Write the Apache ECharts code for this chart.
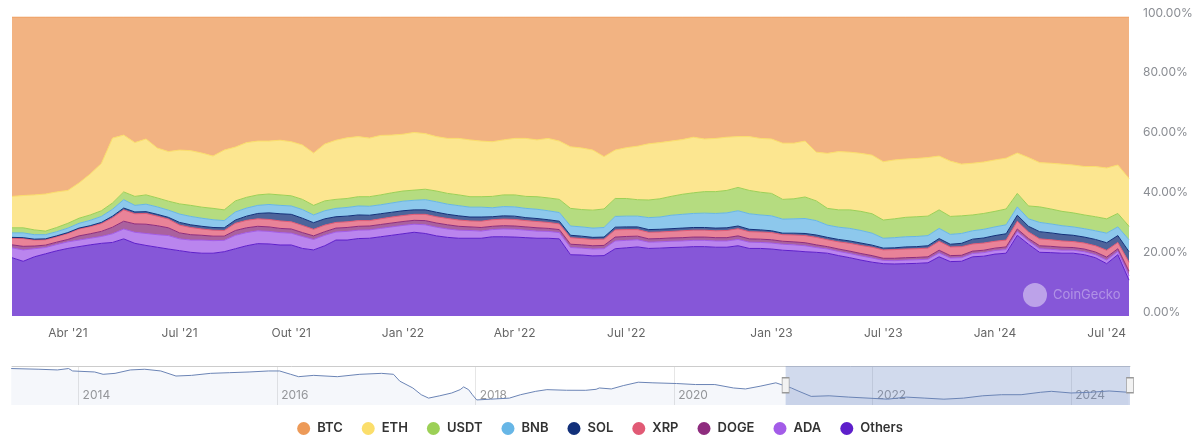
<!DOCTYPE html>
<html><head><meta charset="utf-8">
<script src="https://cdn.jsdelivr.net/npm/echarts@6/dist/echarts.min.js"></script>
<style>html,body{margin:0;padding:0;background:#fff}#c{width:1200px;height:446px}</style>
</head><body><div id="c"></div>
<script>
// ---- main chart categories (ordinal time axis) ----
const dates = ['2021-02-15','2021-02-24','2021-03-05','2021-03-14','2021-03-23','2021-04-01','2021-04-10','2021-04-19','2021-04-28','2021-05-07','2021-05-16','2021-05-25','2021-06-03','2021-06-12','2021-06-21','2021-07-01','2021-07-10','2021-07-19','2021-07-28','2021-08-06','2021-08-15','2021-08-24','2021-09-02','2021-09-11','2021-09-21','2021-10-01','2021-10-10','2021-10-19','2021-10-28','2021-11-06','2021-11-15','2021-11-24','2021-12-04','2021-12-13','2021-12-22','2022-01-01','2022-01-10','2022-01-19','2022-01-28','2022-02-06','2022-02-15','2022-02-24','2022-03-05','2022-03-14','2022-03-23','2022-04-01','2022-04-10','2022-04-19','2022-04-28','2022-05-07','2022-05-16','2022-05-25','2022-06-03','2022-06-12','2022-06-21','2022-07-01','2022-07-15','2022-07-29','2022-08-12','2022-08-26','2022-09-09','2022-09-23','2022-10-07','2022-10-21','2022-11-04','2022-11-18','2022-12-02','2022-12-16','2023-01-01','2023-01-19','2023-02-06','2023-02-24','2023-03-14','2023-04-01','2023-04-19','2023-05-07','2023-05-25','2023-06-12','2023-07-01','2023-07-19','2023-08-06','2023-08-24','2023-09-11','2023-09-29','2023-10-17','2023-11-04','2023-11-22','2023-12-10','2024-01-01','2024-01-19','2024-02-06','2024-02-24','2024-03-13','2024-03-31','2024-04-18','2024-05-06','2024-05-24','2024-06-12','2024-07-01','2024-07-19','2024-08-06'];

const xTickDates = ['2021-04-01','2021-07-01','2021-10-01','2022-01-01','2022-04-01','2022-07-01','2023-01-01','2023-07-01','2024-01-01','2024-07-01'];
const xTickTexts = ["Abr '21","Jul '21","Out '21","Jan '22","Abr '22","Jul '22","Jan '23","Jul '23","Jan '24","Jul '24"];

// ---- market share (%) per coin ----
const btc = [60,59.7,59.5,59.2,58.5,58,55.5,52.5,49,40.5,39.5,42,40.8,43.8,45,
 44.5,44.7,45.5,46.5,44.5,43.5,42,41.5,41.5,41.2,41.7,42.8,45.5,42.5,
 41.2,40.4,40,40.5,39.6,39.5,39.2,38.6,39,40,40.6,40.6,41.1,41.5,
 41.7,41.1,40.6,40.6,41.1,40.6,41.5,43.4,43.8,44.5,46.7,44.5,43.7,43.2,
 42.4,42,41.5,41,40.2,40.8,40.6,40.2,40,40,40.6,40.8,42.2,42.2,41.5,
 45.2,45.6,45,45.2,45.6,46.2,48.4,47.8,47.5,47.3,47,46.5,48.2,49.2,
 48.9,48.5,47.8,47.2,45.5,47,48.7,48.9,49.2,49.5,50,50,50.5,49.5,54];
const eth = [10.5,10.8,11.7,12.4,11.9,11,11.8,13.7,15.8,21.7,19.0,18,18.7,16.7,16.6,
 18,18.3,18.1,17.5,20,18,18.3,18,17.7,18.3,18.1,18.2,17.5,19,
 19.8,20.3,20.1,19.6,19.9,19.3,19,19.3,18.6,18.2,18.4,18.9,19,18.6,
 18.3,18.4,18.9,19.4,19,19.9,19.5,20.6,20.6,20.1,17.5,16.2,17,17.9,
 18.8,18.8,18.5,18.3,18.6,17.6,17.8,17.8,17,18,18,18.2,18.8,18.6,18.7,
 16.3,18.4,19.5,19.3,19.4,19.6,19.5,19.7,19.5,19.5,19.6,18,18.5,17.3,
 17.3,17.2,17.2,17,13.5,16.2,14.8,15.3,15.8,16,16.2,16.8,17,16.2,16];
const usdt = [1.7,1.7,1.6,1.2,1.4,1.6,1.7,1.8,1.9,2.1,2.6,3.0,3.1,3.0,3.0,
 3.4,3.7,3.7,3.8,3.6,3.7,3.6,3.5,3.5,3.5,3.4,3.4,3.2,3.3,
 3.0,3.0,3.1,3.2,3.3,3.4,3.4,3.4,3.5,3.6,3.6,3.6,3.5,3.5,
 3.8,3.9,4.0,4.0,4.2,4.3,4.4,5.9,5.8,6.0,6.2,6.0,5.9,5.5,
 5.9,6.1,6.3,6.7,6.9,7.2,7.3,7.5,7.8,7.8,7.6,7.5,6.6,6.7,7.2,
 6.6,5.6,5.8,6.2,6.4,6.5,6.1,6.3,6.5,6.6,6.5,6.2,6.0,5.9,
 5.3,5.3,5.2,5.3,4.5,4.3,5.2,5.0,4.8,4.7,4.6,4.7,4.8,4.5,4.5];
const bnb = [1.5,1.6,1.5,1.4,1.4,1.5,1.6,1.8,2.0,2.3,2.8,2.2,2.5,2.5,2.4,
 2.8,2.8,2.7,2.6,2.4,2.7,2.7,2.7,2.8,2.8,2.8,2.9,2.6,2.7,
 2.8,2.9,3.0,3.0,3.0,3.1,3.2,3.2,3.4,3.5,3.4,3.4,3.3,3.3,
 3.0,3.1,3.1,3.1,3.1,3.0,2.9,3.1,3.1,3.1,3.2,3.6,3.6,3.6,
 4.0,4.1,4.5,4.6,4.7,4.8,4.9,5.0,5.1,5.2,5.0,5.0,4.7,4.8,5.0,
 4.8,4.1,4.1,4.2,4.2,4.0,3.3,3.4,3.4,3.4,3.4,3.4,3.3,3.3,
 2.8,2.9,2.9,3.0,2.8,2.5,3.1,3.0,2.9,2.8,2.8,2.9,3.2,2.9,4.0];
const sol = [0.3,0.3,0.3,0.3,0.3,0.3,0.3,0.3,0.4,0.5,0.6,0.6,0.6,0.6,0.6,
 0.9,0.9,0.9,0.9,0.9,1.1,1.4,1.8,2.2,2.4,2.5,2.4,2.2,2.1,
 1.9,1.9,1.9,1.8,1.7,1.6,1.6,1.5,1.5,1.5,1.4,1.4,1.3,1.4,
 1.0,1.1,1.1,1.0,1.0,0.9,0.9,0.8,0.8,0.7,0.7,0.9,0.9,0.9,
 0.9,0.9,0.9,0.9,0.9,0.9,0.9,0.9,0.9,0.8,0.7,0.6,0.5,0.6,0.7,
 0.8,0.8,0.8,0.8,0.8,0.7,0.6,0.6,0.7,0.7,0.8,0.9,0.9,1.1,
 1.6,1.7,1.9,2.1,2.0,1.9,2.4,2.3,2.2,2.1,2.0,2.1,2.5,2.3,3.5];
const xrp = [2.2,2.6,2.0,1.8,1.8,2.0,2.3,2.4,2.6,3.2,3.8,3.4,3.6,3.2,2.9,
 2.6,2.4,2.1,2.0,1.9,2.4,2.5,2.5,2.5,2.5,2.4,2.4,2.2,2.2,
 1.9,1.9,1.9,1.8,1.9,2.0,2.0,2.0,2.1,2.1,2.1,2.1,2.0,2.1,
 2.2,2.2,2.2,2.1,2.1,2.0,1.9,2.2,2.1,2.1,2.1,2.4,2.3,2.2,
 2.2,2.2,2.2,2.3,2.3,2.3,2.3,2.4,2.4,2.4,2.4,2.4,2.2,2.3,2.4,
 2.5,2.3,2.4,2.6,2.7,2.8,2.8,2.9,2.9,2.9,2.9,3.0,2.9,2.9,
 2.4,2.4,2.3,2.3,2.6,2.2,2.3,2.2,2.1,2.0,2.0,2.1,2.3,2.1,3.0];
const doge = [1.0,1.2,0.9,0.8,0.8,0.8,1.4,1.5,1.7,2.2,2.6,2.8,3.1,3.0,2.6,
 2.0,1.8,1.6,1.5,1.4,1.6,1.6,1.5,1.5,1.4,1.4,1.3,1.2,1.2,
 1.3,1.3,1.3,1.3,1.3,1.3,1.3,1.3,1.4,1.4,1.4,1.3,1.2,1.2,
 1.1,1.1,1.1,1.1,1.1,1.0,1.0,1.1,1.1,1.1,1.1,1.3,1.3,1.2,
 1.1,1.1,1.1,1.1,1.1,1.1,1.1,1.1,1.2,1.1,1.1,1.1,1.0,1.0,1.0,
 0.9,0.8,0.8,0.8,0.8,0.8,0.7,0.8,0.8,0.8,0.8,0.9,0.8,0.8,
 0.8,0.8,0.8,0.9,0.9,0.8,1.0,1.0,1.0,0.9,0.9,0.9,1.0,0.9,1.5];
const ada = [3.3,3.8,2.7,2.1,2.1,2.2,2.2,2.2,2.3,2.9,3.3,3.7,4.0,4.2,4.5,
 3.95,4.1,4.4,4.2,3.8,4.5,4.4,4.3,4.2,4.15,3.95,4.0,3.5,3.5,
 2.7,2.9,2.8,2.8,2.8,2.8,2.8,2.7,2.9,2.9,2.8,2.7,2.6,2.4,
 2.4,2.6,2.6,2.5,2.4,2.3,2.1,2.4,2.3,2.3,2.3,2.6,2.5,2.4,
 2.1,2.1,2.1,2.1,2.1,2.1,2.1,2.1,2.1,2.1,2.0,2.0,2.0,2.0,2.0,
 1.6,1.4,1.4,1.4,1.4,1.4,1.1,1.1,1.2,1.2,1.2,1.3,1.2,1.2,
 1.1,1.2,1.2,1.2,1.2,1.1,1.2,1.1,1.0,1.0,1.0,1.0,1.2,1.1,1.5];
const others = [19.5,18.3,19.8,20.8,21.8,22.6,23.2,23.8,24.3,24.6,25.8,24.3,23.6,23,22.4,
 21.85,21.3,21,21,21.5,22.5,23.5,24.2,24.1,23.75,23.75,22.6,22.1,23.5,
 25.4,25.4,25.9,26,26.5,27,27.5,28,27.6,26.8,26.3,26,26,26,
 26.5,26.5,26.4,26.2,26,26,25.8,20.5,20.4,20.1,20.2,22.5,22.8,23.1,
 22.6,22.7,22.9,23,23.2,23.2,23,23,23.5,22.6,22.6,22.4,22,21.8,21.5,
 21.3,21,20.2,19.5,18.7,18,17.5,17.4,17.5,17.6,17.8,19.8,18.2,18.3,
 19.8,20,20.7,21,27,24,21.3,21.2,21,21,20.5,19.5,17.5,20.5,12];

// ---- navigator (BTC dominance, full history) ----
const navDates = ['2013-04-28','2013-08-08','2013-10-15','2013-11-25','2013-12-10','2014-03-01','2014-04-01','2014-05-15','2014-07-10','2014-09-01','2014-10-30','2014-12-25','2015-02-20','2015-05-01','2015-07-10','2015-09-20','2015-12-01','2016-01-10','2016-02-20','2016-03-20','2016-05-15','2016-08-10','2016-11-01','2017-01-20','2017-03-05','2017-03-28','2017-05-15','2017-06-15','2017-07-12','2017-08-22','2017-10-05','2017-11-05','2017-11-18','2017-12-06','2017-12-20','2018-01-05','2018-02-25','2018-05-05','2018-06-15','2018-08-10','2018-09-20','2018-12-01','2019-02-10','2019-03-20','2019-04-01','2019-05-15','2019-06-28','2019-08-22','2019-10-15','2020-01-10','2020-03-20','2020-05-30','2020-08-07','2020-09-20','2020-11-13','2021-01-10','2021-02-10','2021-03-08','2021-04-05','2021-05-20','2021-07-25','2021-10-05','2021-12-15','2022-02-25','2022-05-05','2022-07-12','2022-09-20','2022-12-01','2023-02-10','2023-04-20','2023-07-01','2023-09-10','2023-10-20','2024-01-01','2024-03-10','2024-05-20','2024-07-30'];
const navValues = [95,93.6,92.2,95,90.2,88.2,83.6,85.5,92.2,93.6,90.2,80.2,81.5,85.5,86.8,88.2,90.2,90.2,83.6,78.9,81.5,78.9,83.6,85.5,83.6,70.1,56.6,43.3,36.6,41.2,46.7,53.3,58.7,53.3,43.3,33,34.5,36.6,43.3,50,53.3,52.1,52,54,56.6,54.7,61.3,68,66.8,65.4,63.4,63.4,56.6,54.7,60.1,66.8,61.3,56.6,50,40,41.2,38.6,36.6,34.5,38.6,36.6,34.5,36.6,41.2,43.3,43.3,48.1,50,46.7,48.1,50.7,48.1];
const navStart = '2013-05-01', navEnd = '2024-08-05';
const selStart = '2021-02-15', selEnd = '2024-08-05';

// ---- build ----
const FONT = 'Inter, "Liberation Sans", Arial, sans-serif';
function yearFrac(s) {
  const d = new Date(s + 'T00:00:00Z');
  const y = d.getUTCFullYear();
  const a = Date.UTC(y, 0, 1), b = Date.UTC(y + 1, 0, 1);
  return y + (d.getTime() - a) / (b - a);
}
const stackOrder = [
  ['Others', others, '#5e1fcb'],
  ['ADA', ada, '#a35ce8'],
  ['DOGE', doge, '#8e2c7e'],
  ['XRP', xrp, '#e15a75'],
  ['SOL', sol, '#12307a'],
  ['BNB', bnb, '#67b6e6'],
  ['USDT', usdt, '#9cd056'],
  ['ETH', eth, '#fbde6b'],
  ['BTC', btc, '#ed9a58']
];
const totals = dates.map((d, i) => stackOrder.reduce((s, r) => s + r[1][i], 0));
const tickMap = {};
xTickDates.forEach((d, k) => { tickMap[d] = xTickTexts[k]; });

const mainSeries = stackOrder.map(([name, arr, col]) => ({
  name, type: 'line', stack: 'share', xAxisIndex: 0, yAxisIndex: 0,
  data: arr.map((v, i) => v / totals[i] * 100),
  symbol: 'none', color: col,
  lineStyle: { width: 1, color: col },
  areaStyle: { color: col, opacity: 0.75 },
  emphasis: { disabled: true }, silent: true
}));

const navMin = yearFrac(navStart), navMax = yearFrac(navEnd);
const navMid = 62;
const navSeries = {
  name: 'nav', type: 'line', xAxisIndex: 1, yAxisIndex: 1,
  data: navDates.map((d, i) => [yearFrac(d), navValues[i]]),
  symbol: 'none', silent: true,
  lineStyle: { width: 1, color: '#6b84b5' },
  areaStyle: { color: '#335cad', opacity: 0.05 },
  markArea: { silent: true, itemStyle: { color: 'rgba(102,133,194,0.3)' },
    data: [[{ xAxis: yearFrac(selStart) }, { xAxis: yearFrac(selEnd) }]] },
  markPoint: { silent: true, symbol: 'rect', symbolSize: [7, 15],
    itemStyle: { color: '#f2f2f2', borderColor: '#999', borderWidth: 1 },
    label: { show: false },
    data: [{ coord: [yearFrac(selStart), navMid] }, { coord: [yearFrac(selEnd), navMid] }] }
};

const chart = echarts.init(document.getElementById('c'), null, { renderer: 'canvas' });
chart.setOption({
  animation: false,
  backgroundColor: '#ffffff',
  textStyle: { fontFamily: FONT },
  legend: {
    data: ['BTC','ETH','USDT','BNB','SOL','XRP','DOGE','ADA','Others'],
    left: 'center', top: 417, icon: 'circle', itemWidth: 13, itemHeight: 13, itemGap: 19,
    textStyle: { fontFamily: FONT, fontSize: 13, fontWeight: 600, color: '#333', padding: [0, 0, 0, 2] }
  },
  grid: [
    { left: 12, right: 71, top: 17, height: 299 },
    { left: 12, right: 70, top: 366, height: 39 }
  ],
  xAxis: [
    { type: 'category', gridIndex: 0, data: dates, boundaryGap: false,
      axisLine: { show: false }, axisTick: { show: false }, splitLine: { show: false },
      axisLabel: { interval: (i, v) => tickMap[v] !== undefined, formatter: v => tickMap[v] || '',
        color: '#666', fontSize: 12, margin: 11, fontFamily: FONT } },
    { type: 'value', gridIndex: 1, min: navMin, max: navMax, splitNumber: 5,
      axisLine: { show: false }, axisTick: { show: false },
      splitLine: { show: true, showMinLine: false, showMaxLine: false, lineStyle: { color: '#e6e6e6', width: 1 } },
      axisLabel: { inside: true, align: 'left', showMinLabel: false, showMaxLabel: false,
        verticalAlign: 'middle', margin: 10, color: '#999', fontSize: 12, padding: [0, 0, 0, 4],
        fontFamily: FONT, formatter: v => String(Math.round(v)) } },
    { type: 'value', gridIndex: 1, position: 'top', min: navMin, max: navMax,
      axisLine: { show: true, onZero: false, lineStyle: { color: '#cccccc', width: 1 } },
      axisTick: { show: false }, axisLabel: { show: false }, splitLine: { show: false } }
  ],
  yAxis: [
    { type: 'value', gridIndex: 0, position: 'right', min: 0, max: 100, interval: 20,
      axisLine: { show: false }, axisTick: { show: false }, splitLine: { show: false },
      axisLabel: { formatter: v => v.toFixed(2) + '%', color: '#8a8d93', fontSize: 12,
        margin: 14, verticalAlign: 'bottom', lineHeight: 8, fontFamily: FONT } },
    { type: 'value', gridIndex: 1, min: 23, max: 100, show: false }
  ],
  graphic: [
    { type: 'circle', shape: { cx: 1035, cy: 295, r: 12 }, style: { fill: 'rgba(255,255,255,0.45)' }, z: 100 },
    { type: 'text', x: 1053, y: 295, style: { text: 'CoinGecko', fill: 'rgba(255,255,255,0.35)',
      font: '13px ' + FONT, verticalAlign: 'middle' }, z: 100 }
  ],
  series: mainSeries.concat([navSeries])
});
</script></body></html>
